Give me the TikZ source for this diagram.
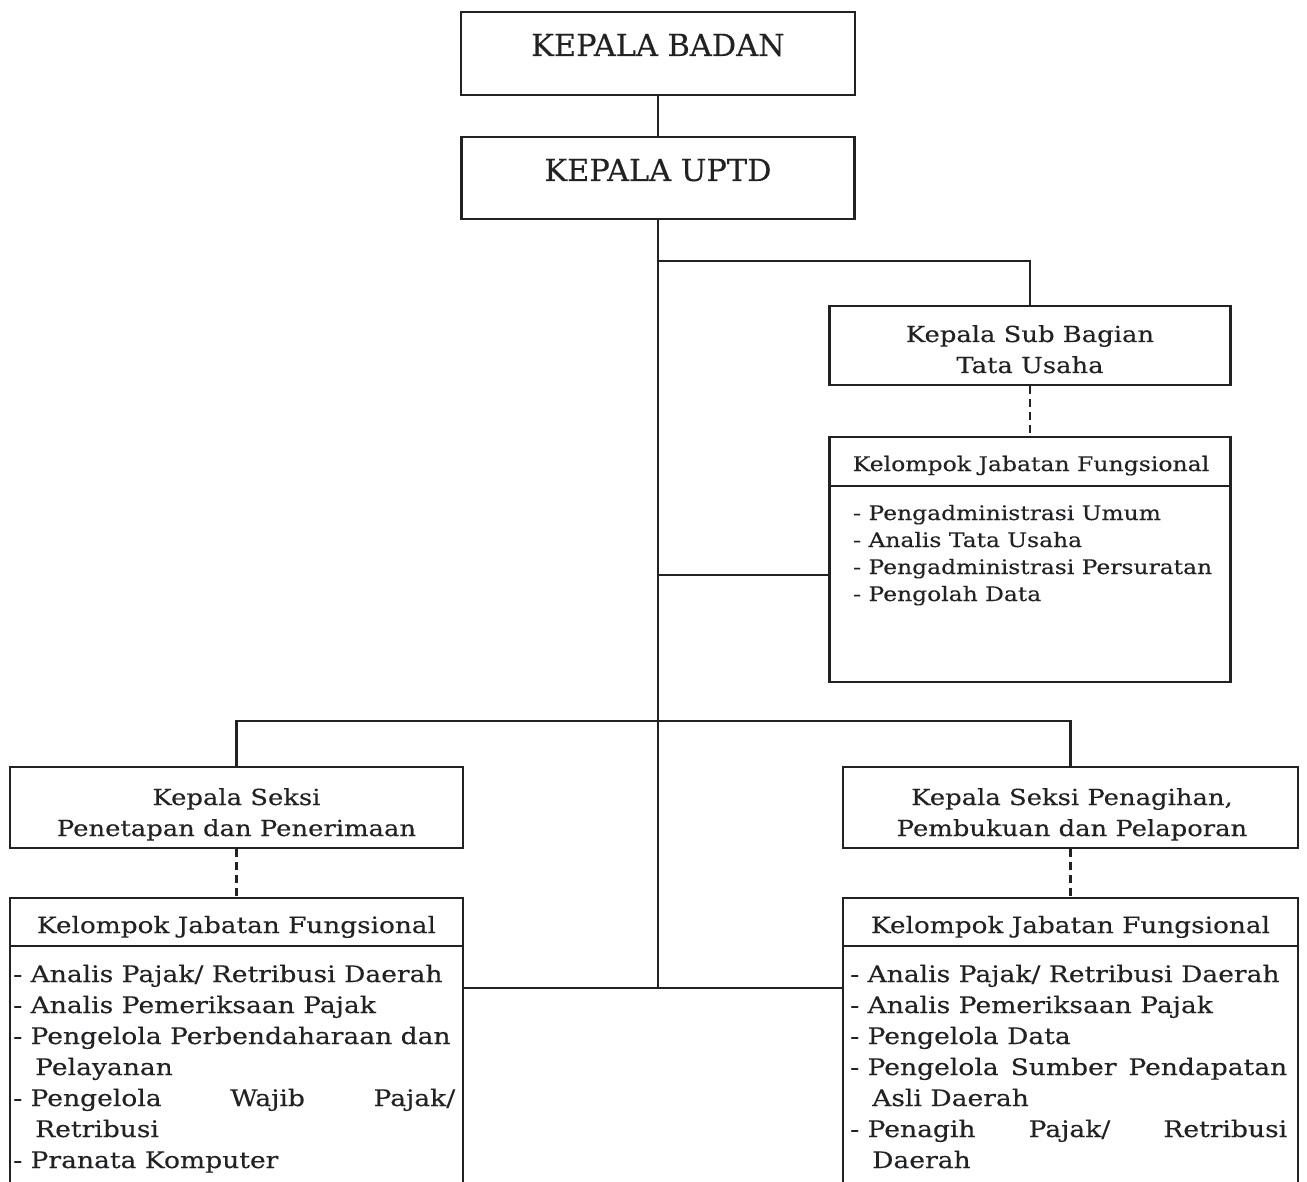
\documentclass[tikz,border=0pt]{standalone}
\usepackage{fontspec}
\setmainfont[FakeBold=0.3]{DejaVu Serif}
\newfontfamily\widefont[FakeStretch=1.17,FakeBold=0.3]{DejaVu Serif}
\definecolor{ink}{RGB}{34,34,36}
\begin{document}
\begin{tikzpicture}[x=1pt,y=-1pt,
  box/.style={draw=ink, line width=2.3pt, rectangle, inner sep=0pt},
  conn/.style={draw=ink, line width=2.3pt},
  dconn/.style={draw=ink, line width=2.3pt, dash pattern=on 8pt off 5pt},
  lbl/.style={text=ink, inner sep=0pt, anchor=base},
  big/.style={font=\fontsize{30.4}{34}\selectfont},
  mid/.style={font=\widefont\fontsize{22.1}{31}\selectfont},
  hdr/.style={font=\widefont\fontsize{20.1}{26}\selectfont},
  hdrb/.style={font=\widefont\fontsize{22.5}{28}\selectfont},
  lst/.style={font=\widefont\fontsize{20}{27}\selectfont, align=left, anchor=base west},
  lstb/.style={font=\widefont\fontsize{22.7}{31}\selectfont, align=left, anchor=base west}]
\useasboundingbox (0,0) rectangle (1307,1182);
\clip (0,0) rectangle (1307,1182);
% boxes
\node[box, minimum width=394, minimum height=83] (badan) at (658,53.5) {};
\node[box, minimum width=393, minimum height=82] (uptd) at (658,178) {};
\node[box, minimum width=401, minimum height=79] (subbag) at (1030,345.5) {};
\node[box, minimum width=401, minimum height=49] (kjf1h) at (1030,461.5) {};
\node[box, minimum width=401, minimum height=196] (kjf1b) at (1030,584) {};
\node[box, minimum width=453, minimum height=81] (seksi1) at (236.5,807.5) {};
\node[box, minimum width=455, minimum height=81] (seksi2) at (1070.5,807.5) {};
\node[box, minimum width=453, minimum height=48] (kjf2h) at (236.5,922) {};
\node[box, minimum width=453, minimum height=260] (kjf2b) at (236.5,1076) {};
\node[box, minimum width=455, minimum height=48] (kjf3h) at (1070.5,922) {};
\node[box, minimum width=455, minimum height=260] (kjf3b) at (1070.5,1076) {};
% texts
\node[lbl, big] (badanT) at (658,56) {KEPALA BADAN};
\node[lbl, big] (uptdT) at (658,181) {KEPALA UPTD};
\node[lbl, mid, align=center] (subbagT) at (1030,373) {Kepala Sub Bagian\\Tata Usaha};
\node[lbl, hdr] (kjf1hT) at (1031,471) {Kelompok Jabatan Fungsional};
\node[lbl, lst] (kjf1bT) at (853,601) {- Pengadministrasi Umum\\- Analis Tata Usaha\\- Pengadministrasi Persuratan\\- Pengolah Data};
\node[lbl, mid, align=center] (seksi1T) at (236.5,836) {Kepala Seksi\\Penetapan dan Penerimaan};
\node[lbl, mid, align=center] (seksi2T) at (1072,836) {Kepala Seksi Penagihan,\\Pembukuan dan Pelaporan};
\node[lbl, hdrb] (kjf2hT) at (236.5,933) {Kelompok Jabatan Fungsional};
\node[lbl, hdrb] (kjf3hT) at (1070.5,933) {Kelompok Jabatan Fungsional};
\node[lbl, lstb] (kjf2bT) at (13,1168) {- Analis Pajak/ Retribusi Daerah\\- Analis Pemeriksaan Pajak\\- Pengelola Perbendaharaan dan\\\hspace*{22pt}Pelayanan\\\hbox to 442pt{- Pengelola\hfil Wajib\hfil Pajak/}\\\hspace*{22pt}Retribusi\\- Pranata Komputer};
\node[lbl, lstb] (kjf3bT) at (850,1168) {- Analis Pajak/ Retribusi Daerah\\- Analis Pemeriksaan Pajak\\- Pengelola Data\\\hbox to 437pt{- Pengelola\hfil Sumber\hfil Pendapatan}\\\hspace*{22pt}Asli Daerah\\\hbox to 437pt{- Penagih\hfil Pajak/\hfil Retribusi}\\\hspace*{22pt}Daerah};
% junctions
\coordinate (j1) at (658,261);
\coordinate (j2) at (658,575);
\coordinate (j3) at (658,721);
\coordinate (tb) at (658,988);
% connectors
\draw[conn] (badan.south) -- (uptd.north);
\draw[conn] (uptd.south) -- (tb);
\draw[conn] (j1) -| (subbag.north);
\draw[dconn] (subbag.south) -- (kjf1h.north);
\draw[conn] (j2) -- (j2 -| kjf1b.west);
\draw[conn] (seksi1.north) |- (j3) -| (seksi2.north);
\draw[dconn] (seksi1.south) -- (kjf2h.north);
\draw[dconn] (seksi2.south) -- (kjf3h.north);
\draw[conn] (kjf2b.east |- tb) -- (kjf3b.west |- tb);
\end{tikzpicture}
\end{document}
